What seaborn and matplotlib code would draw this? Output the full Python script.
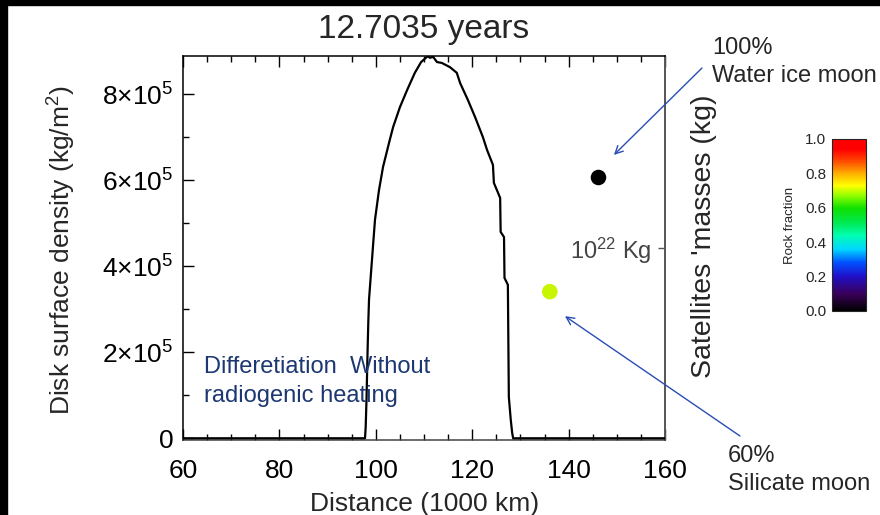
import numpy as np
import pandas as pd
import matplotlib
matplotlib.use("Agg")
import matplotlib.pyplot as plt
from matplotlib.colors import LinearSegmentedColormap
from matplotlib.ticker import MultipleLocator, FixedLocator, NullLocator
import seaborn as sns

# ---- data -------------------------------------------------------------
# disk surface density profile (distance in 1000 km, density in kg/m^2)
distance = [60.0, 97.76, 97.9, 98.07, 98.3, 98.44, 98.59, 98.94, 99.36, 99.83,
            100.66, 101.5, 102.9, 103.6, 105.0, 106.5, 108.1, 109.4, 110.8,
            111.2, 111.9, 112.7, 113.7, 115.4, 116.8, 117.5, 119.1, 120.6,
            122.2, 123.1, 124.3, 124.5, 125.8, 125.9, 126.6, 126.7, 127.4,
            127.6, 128.0, 128.3, 128.5, 160.0]
density = [0.0, 0.0, 2.6e4, 8.9e4, 2.06e5, 2.68e5, 3.22e5, 3.75e5, 4.38e5, 5.08e5,
           5.77e5, 6.31e5, 6.94e5, 7.24e5, 7.70e5, 8.10e5, 8.50e5, 8.75e5, 8.89e5,
           8.85e5, 8.87e5, 8.75e5, 8.73e5, 8.63e5, 8.50e5, 8.26e5, 7.87e5, 7.47e5,
           7.01e5, 6.70e5, 6.36e5, 5.94e5, 5.59e5, 4.80e5, 4.68e5, 3.73e5, 3.57e5,
           9.6e4, 4.3e4, 1.2e4, 0.0, 0.0]

# satellites: position, mass and rock fraction
sat_distance = [146.2, 136.1]
sat_mass = [5.4e22, 3.5e21]
sat_colors = ["#000000", "#c8f500"]
sat_names = ["100%\nWater ice moon", "60%\nSilicate moon"]

xticks = [60, 80, 100, 120, 140, 160]
yticks = [0, 2e5, 4e5, 6e5, 8e5]
ytick_labels = ["0", r"$2{\times}10^{5}$", r"$4{\times}10^{5}$",
                r"$6{\times}10^{5}$", r"$8{\times}10^{5}$"]
cbar_ticks = [0.0, 0.2, 0.4, 0.6, 0.8, 1.0]

# ---- style ------------------------------------------------------------
sns.set_theme(style="ticks")
plt.rcParams["font.family"] = ["Liberation Sans", "DejaVu Sans"]
plt.rcParams["mathtext.fontset"] = "custom"
plt.rcParams["mathtext.rm"] = "Liberation Sans"
plt.rcParams["mathtext.it"] = "Liberation Sans:italic"
plt.rcParams["mathtext.bf"] = "Liberation Sans:bold"

W, H = 880, 515
fig = plt.figure(figsize=(W / 100, H / 100), dpi=100)
fig.patch.set_facecolor("white")

# dark frame along the top and left edges
fig.patches.append(plt.Rectangle((0, 1 - 5 / H), 1, 5 / H, transform=fig.transFigure,
                                 color="black", zorder=-1))
fig.patches.append(plt.Rectangle((0, 0), 7 / W, 1, transform=fig.transFigure,
                                 color="black", zorder=-1))

ax_l, ax_r, ax_t, ax_b = 183, 665, 55.7, 440
ax = fig.add_axes([ax_l / W, 1 - ax_b / H, (ax_r - ax_l) / W, (ax_b - ax_t) / H])

df = pd.DataFrame({"distance": distance, "density": density})
sns.lineplot(data=df, x="distance", y="density", ax=ax, sort=False, estimator=None,
             color="black", lw=1.6, zorder=3)

ax.set_xlim(60, 160)
ax.set_ylim(-4000, 8.898e5)
ax.xaxis.set_major_locator(FixedLocator(xticks))
ax.xaxis.set_minor_locator(MultipleLocator(5))
ax.yaxis.set_major_locator(FixedLocator(yticks))
ax.yaxis.set_minor_locator(MultipleLocator(1e5))
ax.set_xticklabels([str(v) for v in xticks])
ax.set_yticklabels(ytick_labels)
ax.tick_params(axis="both", which="both", direction="in", labelsize=19,
               colors="black", top=True, right=False, width=1.0)
ax.tick_params(axis="both", which="major", length=8)
ax.tick_params(axis="both", which="minor", length=4.5)
ax.tick_params(axis="x", pad=14)
ax.tick_params(axis="y", pad=7)
for s in ["left", "top"]:
    ax.spines[s].set_color("black")
    ax.spines[s].set_linewidth(1.1)
ax.spines["bottom"].set_color("#444444")
ax.spines["bottom"].set_linewidth(1.1)
ax.spines["right"].set_color("#555555")
ax.spines["right"].set_linewidth(1.4)

ax.set_xlabel("Distance (1000 km)", fontsize=19, va="center")
ax.xaxis.set_label_coords(0.502, -0.1665)
ax.set_ylabel("Disk surface density (kg/m$^{2}$)", fontsize=19, va="center")
ax.yaxis.set_label_coords(-0.251, 0.494)
ax.set_title("12.7035 years", fontsize=24, pad=13)

ax.text(0.0436, 0.218, "Differetiation  Without\nradiogenic heating", transform=ax.transAxes,
        ha="left", va="top", fontsize=17, color="#1c3772", linespacing=1.4)

# satellites on a log mass axis
ax2 = ax.twinx()
sat_df = pd.DataFrame({"distance": sat_distance, "mass": sat_mass, "name": sat_names})
ax2.set_yscale("log")
ax2.set_ylim(1e20, 1e24)
sns.scatterplot(data=sat_df, x="distance", y="mass", hue="name",
                palette=dict(zip(sat_names, sat_colors)), s=125, edgecolor="none",
                legend=False, ax=ax2, zorder=4)
ax2.yaxis.set_major_locator(FixedLocator([1e22]))
ax2.yaxis.set_minor_locator(NullLocator())
ax2.set_yticklabels([r"$10^{22}$ Kg"])
ax2.tick_params(axis="y", direction="in", length=5, width=1.0, colors="#555555",
                labelsize=17, pad=-10)
for lab in ax2.get_yticklabels():
    lab.set_horizontalalignment("right")
    lab.set_color("#444444")
for s in ax2.spines.values():
    s.set_visible(False)
ax2.set_ylabel("")
ax.text(1.0815, 0.53, "Satellites 'masses (kg)", transform=ax.transAxes, rotation=90,
        ha="center", va="center", fontsize=20.5)

# labels and pointers for the two moons
arrow_kw = dict(arrowstyle="->", color="#2a4db5", lw=1.0, shrinkA=0, shrinkB=0,
                mutation_scale=14)
fig.text(712 / W, 1 - 37 / H, sat_names[0], ha="left", va="top", fontsize=17,
         linespacing=1.38)
fig.text(728 / W, 1 - 445 / H, sat_names[1], ha="left", va="top", fontsize=17,
         linespacing=1.38)
ax.annotate("", xy=(149.4, 6.59e5), xytext=(702 / W, 1 - 68 / H),
            textcoords="figure fraction", arrowprops=arrow_kw, annotation_clip=False)
ax.annotate("", xy=(139.25, 2.84e5), xytext=(740 / W, 1 - 436 / H),
            textcoords="figure fraction", arrowprops=arrow_kw, annotation_clip=False)

# rock fraction colour bar
rainbow = LinearSegmentedColormap.from_list("rock", [
    (0.0, "#000000"), (0.1, "#3a005a"), (0.2, "#2010c8"), (0.28, "#0050ff"),
    (0.36, "#00d8ff"), (0.44, "#00ffb0"), (0.52, "#00e84a"), (0.6, "#10e000"),
    (0.67, "#90ff00"), (0.73, "#ffff00"), (0.8, "#ffb000"), (0.88, "#ff4000"),
    (0.94, "#ff0000"), (1.0, "#ff0000")])
cax = fig.add_axes([832 / W, 1 - 311 / H, 34 / W, 172 / H])
sm = plt.cm.ScalarMappable(cmap=rainbow, norm=plt.Normalize(0, 1))
cb = fig.colorbar(sm, cax=cax)
cb.set_ticks(cbar_ticks)
cb.set_ticklabels([f"{v:.1f}" for v in cbar_ticks])
cb.ax.yaxis.set_ticks_position("left")
cb.ax.tick_params(labelsize=11, length=0, pad=4)
cb.outline.set_linewidth(0.8)
cb.ax.text(-1.25, 0.5, "Rock fraction", transform=cb.ax.transAxes, rotation=90,
           ha="center", va="center", fontsize=9.5)

fig.savefig("out.png", dpi=100)
